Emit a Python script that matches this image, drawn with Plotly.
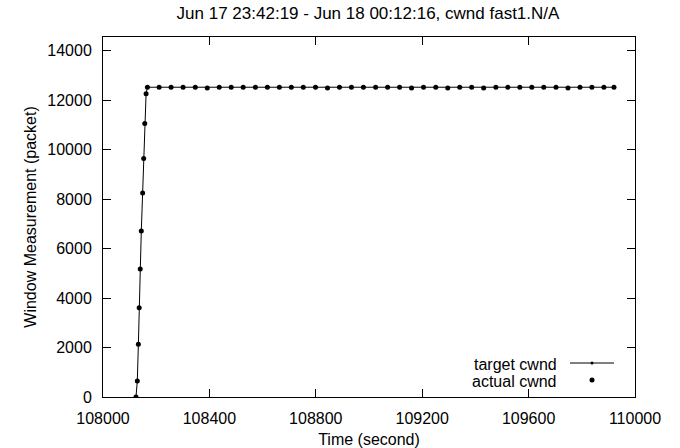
import plotly.graph_objects as go

# ---- data ----
rise_time = [108124, 108129, 108133, 108136, 108140, 108144, 108149, 108153, 108157, 108162, 108167]
rise_cwnd = [0, 648, 2134, 3603, 5170, 6709, 8247, 9636, 11053, 12255, 12520]

flat_time = [108211, 108256, 108301, 108347, 108392, 108437, 108482, 108527, 108573, 108618,
             108663, 108708, 108753, 108799, 108844, 108889, 108934, 108979, 109025, 109070,
             109115, 109160, 109205, 109251, 109296, 109341, 109386, 109431, 109477, 109522,
             109567, 109612, 109657, 109703, 109748, 109793, 109838, 109883, 109921]
flat_cwnd = [12520, 12520, 12520, 12520, 12490, 12520, 12520, 12520, 12520, 12520,
             12520, 12520, 12520, 12520, 12490, 12520, 12520, 12520, 12520, 12520,
             12520, 12490, 12520, 12520, 12490, 12520, 12520, 12490, 12520, 12520,
             12520, 12520, 12520, 12520, 12490, 12520, 12520, 12520, 12520]

time_s = rise_time + flat_time
target_cwnd = rise_cwnd + flat_cwnd
actual_cwnd = rise_cwnd + flat_cwnd

title_text = "Jun 17 23:42:19 - Jun 18 00:12:16, cwnd fast1.N/A"
x_title = "Time (second)"
y_title = "Window Measurement (packet)"
legend_names = ["target cwnd", "actual cwnd"]

FONT = "Liberation Sans, Arial, sans-serif"
FS = 16

fig = go.Figure()
fig.add_trace(go.Scatter(x=time_s, y=target_cwnd, mode="lines+markers", name=legend_names[0],
                         line=dict(color="#000000", width=1),
                         marker=dict(color="#000000", size=3), showlegend=False))
fig.add_trace(go.Scatter(x=time_s, y=actual_cwnd, mode="markers", name=legend_names[1],
                         marker=dict(color="#000000", size=5), showlegend=False))

# custom legend (symbol to the right of the text, gnuplot style)
W, H = 532.0, 360.0
def px(x):
    return (x - 103) / W
def py(y):
    return (397 - y) / H

fig.add_annotation(x=px(559), y=py(364), xref="paper", yref="paper", text=legend_names[0],
                   showarrow=False, xanchor="right", yanchor="middle",
                   font=dict(family=FONT, size=FS, color="#000"))
fig.add_annotation(x=px(559), y=py(381), xref="paper", yref="paper", text=legend_names[1],
                   showarrow=False, xanchor="right", yanchor="middle",
                   font=dict(family=FONT, size=FS, color="#000"))
fig.add_shape(type="line", xref="paper", yref="paper", x0=px(570), x1=px(614), y0=py(363), y1=py(363),
              line=dict(color="#000", width=1))
fig.add_shape(type="circle", xref="paper", yref="paper", x0=px(590.5), x1=px(593.5),
              y0=py(364.5), y1=py(361.5), fillcolor="#000", line=dict(width=0))
fig.add_shape(type="circle", xref="paper", yref="paper", x0=px(589.5), x1=px(594.5),
              y0=py(382.5), y1=py(377.5), fillcolor="#000", line=dict(width=0))

axis_common = dict(showline=True, linecolor="#000", linewidth=1, mirror="ticks",
                   ticks="inside", ticklen=8, tickcolor="#000", tickwidth=1,
                   showgrid=False, zeroline=False, tickformat="d", automargin=False,
                   tickfont=dict(family=FONT, size=FS, color="#000"))

fig.update_layout(
    width=680, height=448,
    margin=dict(l=103, r=45, t=37, b=51, autoexpand=False),
    paper_bgcolor="white", plot_bgcolor="white",
    title=dict(text=title_text, x=368 / 680, xanchor="center", y=1 - 13 / 448, yanchor="middle",
               font=dict(family=FONT, size=17, color="#000")),
    xaxis=dict(range=[108000, 110000], tick0=108000, dtick=400, ticklabelstandoff=7,
               title=dict(text=x_title, standoff=10, font=dict(family=FONT, size=FS, color="#000")),
               **axis_common),
    yaxis=dict(range=[0, 14550], tick0=0, dtick=2000, ticklabelstandoff=7,
               title=dict(text=y_title, standoff=6, font=dict(family=FONT, size=FS, color="#000")),
               **axis_common),
)

# remove the browser's default 8px body margin so the figure sits at the window origin
fig.write_html("out.html", config={"displayModeBar": False},
               post_script="document.body.style.margin='0';document.body.style.overflow='hidden';")
